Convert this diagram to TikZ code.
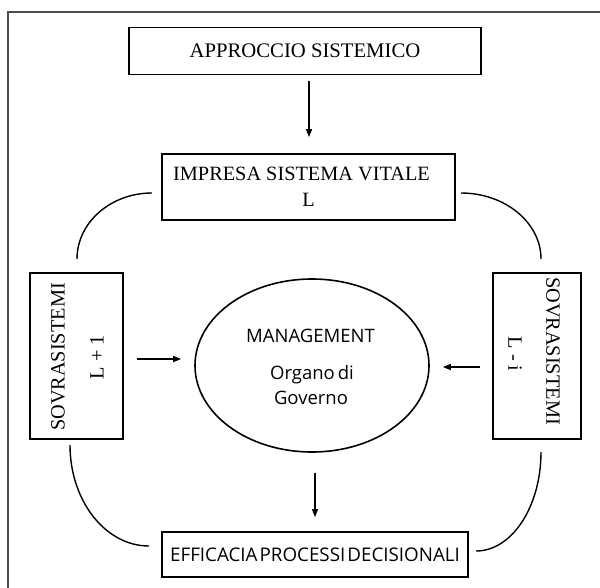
\documentclass[tikz,border=0pt]{standalone}
\usepackage{fontspec}
\setmainfont{Liberation Serif}
\newfontfamily\mysans{Open Sans}
\usetikzlibrary{arrows.meta,shapes.geometric}
\begin{document}
\begin{tikzpicture}[x=1pt,y=-1pt,
  box/.style={draw,line width=1.7pt,inner sep=0pt,font=\fontsize{20.7}{26}\selectfont},
  arr/.style={line width=1.3pt,-{Triangle[length=8pt,width=6pt]}},
  arcline/.style={line width=1.4pt},
  stxt/.style={font=\fontsize{20.3}{24}\selectfont},
  sans/.style={font=\mysans\fontsize{18.5}{24}\selectfont,inner sep=0pt}]
\useasboundingbox (0,0) rectangle (600,587);
% frame
\draw[line width=1.5pt,draw=black!70] (8,600) -- (8,12) -- (610,12);
% boxes
\node[box,minimum width=352pt,minimum height=47pt] (top) at (305,51) {APPROCCIO SISTEMICO};
\node[box,minimum width=293pt,minimum height=66pt,align=center,font=\fontsize{20.3}{26}\selectfont] (imp) at (308.5,187) {IMPRESA SISTEMA VITALE\kern14pt\\L};
\node[box,minimum width=93pt,minimum height=166pt] (lbox) at (76.5,356) {};
\node[box,minimum width=88pt,minimum height=166pt] (rbox) at (537,356) {};
\node[draw,line width=1.6pt,ellipse,minimum width=234pt,minimum height=173pt,inner sep=0pt] (ell) at (312,365.5) {};
\node[box,minimum width=306pt,minimum height=45pt,font=\mysans\fontsize{18.8}{24}\selectfont] (eff) at (315,554.5) {\spaceskip=2pt EFFICACIA PROCESSI DECISIONALI};
% side texts
\node[stxt,rotate=90] (ls) at (58,357) {SOVRASISTEMI};
\node[stxt,rotate=90] (ll) at (97,357) {L + 1};
\node[stxt,rotate=-90] (rs) at (553,351) {SOVRASISTEMI};
\node[stxt,rotate=-90] (rl) at (515,354) {L - i};
% ellipse texts
\node[sans,anchor=base] (m1) at (310.5,342) {MANAGEMENT};
\node[sans,anchor=base] (m2) at (312,379) {\spaceskip=3pt Organo di};
\node[sans,anchor=base] (m3) at (311,404) {Governo};
% arrows
\draw[arr,shorten <=6pt,shorten >=16pt] ([xshift=4pt]top.south) -- ([xshift=0.5pt]imp.north);
\coordinate (la) at ([yshift=-3pt]lbox.east);
\draw[arr,shorten <=13pt,shorten >=13pt] (la) -- (la -| ell.west);
\coordinate (ra) at ([yshift=-11pt]rbox.west);
\draw[arr,shorten <=12pt,shorten >=13pt] (ra) -- (ra -| ell.east);
\draw[arr,shorten <=20pt,shorten >=14pt] ([xshift=3pt]ell.south) -- (eff.north);
% arcs
\coordinate (tl1) at (152,193); \coordinate (tl2) at (77,259);
\coordinate (tr1) at (461,193); \coordinate (tr2) at (541,259);
\coordinate (bl1) at (70,445);  \coordinate (bl2) at (149,546);
\coordinate (br1) at (541,452); \coordinate (br2) at (476,551);
\draw[arcline] (tl1) .. controls (110.6,193) and (77,222.6) .. (tl2);
\draw[arcline] (tr1) .. controls (505,193) and (541,222.6) .. (tr2);
\draw[arcline] (bl1) .. controls (70,500.8) and (105.4,546) .. (bl2);
\draw[arcline] (br1) .. controls (541,506.6) and (511.9,551) .. (br2);
\end{tikzpicture}
\end{document}
